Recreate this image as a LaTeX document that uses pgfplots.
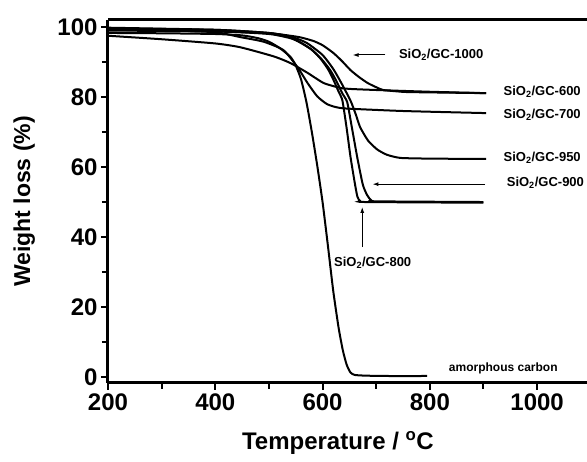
\documentclass[border=0pt]{standalone}
\usepackage{fontspec}
\setmainfont{Liberation Sans}
\usepackage{pgfplots}
\pgfplotsset{compat=1.18}
\usetikzlibrary{arrows.meta}

\newcommand{\sio}[1]{SiO\textsubscript{2}/GC-#1}
\newcommand{\labfont}{\fontsize{13}{15}\selectfont\bfseries}

\begin{document}
\begin{tikzpicture}
\begin{axis}[
  scale only axis,
  width=479pt, height=363pt,
  xmin=200, xmax=1093, ymin=-1.7, ymax=102,
  axis x line*=box, axis y line*=left,
  xtick pos=bottom, ytick pos=left,
  axis line style={line width=3pt},
  xtick={200,400,...,1000}, ytick={0,20,...,100},
  minor x tick num=1, minor y tick num=1,
  tick align=outside,
  major tick length=7pt, minor tick length=6pt,
  every tick/.style={black, line width=2pt},
  /pgf/number format/assume math mode=true,
  /pgf/number format/1000 sep={},
  tick label style={font=\fontsize{24}{24}\selectfont\bfseries},
  every axis y label/.style={at={(axis description cs:-0.175,0.5)}, rotate=90, anchor=center},
  every axis x label/.style={at={(axis description cs:0.48,-0.165)}, anchor=center},
  xlabel={\fontsize{24}{24}\selectfont\bfseries Temperature / \textsuperscript{o}C},
  ylabel={\fontsize{23}{23}\selectfont\bfseries Weight loss (\%)},
  tga/.style={black, line width=2pt, mark=none, smooth, tension=0.35},
]
% amorphous carbon
\addplot[tga] coordinates {
  (200,98.3)(300,98.2)(400,98.0)(450,97.6)(480,96.8)(500,95.8)(520,94)
  (540,91.5)(550,89)(560,85)(570,78.5)(580,70)(590,60.5)(600,50)
  (610,37.5)(620,24.5)(630,14)(638,7.5)(645,3.5)(652,1.3)(660,0.6)
  (680,0.4)(720,0.3)(795,0.3)
};
% GC-600
\addplot[tga] coordinates {
  (200,97.5)(300,96.5)(400,95.3)(447,94.2)(509,91.6)(540,89.7)(572,86.9)
  (602,84)(633,82.6)(652,82.3)(700,82)(800,81.5)(905,81.1)
};
% GC-700
\addplot[tga] coordinates {
  (200,99.4)(300,99.1)(400,98.5)(447,97.1)(490,95.8)(527,93.4)(553,88.6)
  (572,84)(590,80.2)(608,78)(625,77.1)(645,76.7)(750,76)(905,75.4)
};
% GC-800
\addplot[tga] coordinates {
  (200,99.6)(400,99.2)(500,98.3)(540,97)(559,95.5)(580,93.5)(596,91)
  (610,88)(620,85)(630,81.5)(637,79)(645,71)(652,63)(660,55.5)(665,51.5)
  (670,50.3)(680,50)(900,49.8)
};
% GC-900
\addplot[tga] coordinates {
  (200,99.2)(400,98.8)(500,98)(540,96.8)(560,95.5)(580,93.5)(600,90.5)
  (615,87.5)(626,84.5)(637,81)(646,78.5)(655,71)(665,62.5)(675,55)
  (683,52)(690,50.6)(700,50.2)(900,50)
};
% GC-950
\addplot[tga] coordinates {
  (200,99.8)(400,99.2)(500,98.3)(540,97.3)(570,95.5)(600,92)(620,88)
  (635,84)(652,79)(662,75)(670,71.4)(685,67.5)(702,65)(720,63.5)
  (745,62.6)(800,62.4)(905,62.3)
};
% GC-1000
\addplot[tga] coordinates {
  (200,99)(400,98.7)(500,98.2)(540,97.5)(560,97)(583,96)(600,94.8)
  (620,92.6)(636,90.3)(652,87.7)(668,85.7)(684,84)(700,82.8)(713,82)
  (740,81.6)(763,81.4)(905,81.1)
};
% labels and arrows
\node[anchor=west, font=\labfont] at (axis cs:736,92) {\sio{1000}};
\draw[line width=1pt, -{Latex[length=6pt,width=4pt]}] (axis cs:717,92) -- (axis cs:656,92);
\node[anchor=west, font=\labfont] at (axis cs:931,81.4) {\sio{600}};
\node[anchor=west, font=\labfont] at (axis cs:931,74.9) {\sio{700}};
\node[anchor=west, font=\labfont] at (axis cs:931,62.6) {\sio{950}};
\node[anchor=west, font=\labfont] at (axis cs:937,55.4) {\sio{900}};
\draw[line width=1pt, -{Latex[length=6pt,width=4pt]}] (axis cs:903,55.1) -- (axis cs:693,55.1);
\node[anchor=west, font=\labfont] at (axis cs:615,32.6) {\sio{800}};
\draw[line width=1pt, -{Latex[length=6pt,width=4pt]}] (axis cs:674,37.1) -- (axis cs:674,48.6);
\node[anchor=west, font=\fontsize{12}{14}\selectfont\bfseries] at (axis cs:829,2.6) {amorphous carbon};
\coordinate (SW) at (rel axis cs:0,0);
\coordinate (NE) at (rel axis cs:1,1);
\end{axis}
\pgfresetboundingbox
\path[use as bounding box] ([shift={(-108pt,-79pt)}]SW) rectangle ([shift={(0pt,20pt)}]NE);
\end{tikzpicture}
\end{document}
